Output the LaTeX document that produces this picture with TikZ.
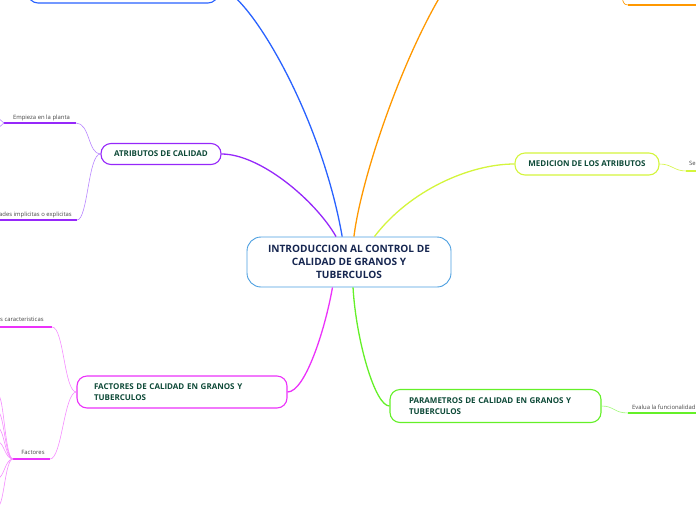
\documentclass[tikz,border=0pt]{standalone}
\usepackage{fontspec}
\setmainfont{Open Sans}
\usepackage{xcolor}
\usetikzlibrary{positioning, calc}

\definecolor{rootblue}{RGB}{74,158,224}
\definecolor{rootnavy}{RGB}{22,38,80}
\definecolor{topicgreen}{RGB}{14,74,56}
\definecolor{leafgray}{RGB}{70,70,70}
\definecolor{bluebranch}{RGB}{41,98,255}
\definecolor{orangebranch}{RGB}{255,152,0}
\definecolor{purplebranch}{RGB}{150,40,250}
\definecolor{purpletwig}{RGB}{185,135,255}
\definecolor{magentabranch}{RGB}{235,50,250}
\definecolor{magentatwig}{RGB}{245,140,255}
\definecolor{limebranch}{RGB}{212,245,60}
\definecolor{greenbranch}{RGB}{100,240,40}
\definecolor{greentwig}{RGB}{160,248,120}

\begin{document}
\begin{tikzpicture}[
    x=1pt, y=-1pt,
    rootbox/.style={draw=rootblue, line width=0.9pt, rounded corners=14pt, fill=white,
        minimum width=204pt, minimum height=50pt, align=center, inner sep=0pt,
        font=\bfseries\fontsize{10.1}{13}\selectfont, text=rootnavy},
    topic/.style={line width=1.1pt, rounded corners=10pt, fill=white, inner sep=0pt,
        font=\bfseries\fontsize{8}{11}\selectfont, text=topicgreen},
    leaf/.style={font=\fontsize{5.9}{6}\selectfont, text=leafgray, inner sep=0pt},
    branch/.style={line width=1.3pt},
    stem/.style={line width=1.5pt},
    twig/.style={line width=0.6pt},
]
\useasboundingbox (0,0) rectangle (696,520);
\clip (0,0) rectangle (696,520);

% central topic
\node[rootbox] (root) at (349,262) {INTRODUCCION AL CONTROL DE\\CALIDAD DE GRANOS Y\\TUBERCULOS};

% main topics
\node[topic, draw=bluebranch, minimum width=190pt, minimum height=30pt] (topleft) at (123,-12) {};
\node[topic, draw=purplebranch, minimum width=120pt, minimum height=21pt] (atrib) at (161,154) {ATRIBUTOS DE CALIDAD};
\node[topic, draw=limebranch, minimum width=144pt, minimum height=22pt] (medicion) at (587,164) {MEDICION DE LOS ATRIBUTOS};
\node[topic, draw=magentabranch, minimum height=32pt, text width=176pt, inner xsep=17pt, align=left] (factores) at (182,392) {FACTORES DE CALIDAD EN GRANOS Y\\TUBERCULOS};
\node[topic, draw=greenbranch, minimum height=33pt, text width=173pt, inner xsep=19pt, align=left] (param) at (495.5,406) {PARAMETROS DE CALIDAD EN GRANOS Y\\TUBERCULOS};

% branches to the centre
\coordinate (orangehub) at (465,-40);
\draw[branch, bluebranch] (topleft.east) .. controls (245,-12) and (320,110) .. (root.105);
\draw[branch, orangebranch] (root.79) .. controls (362,170) and (415,20) .. (orangehub);
\draw[branch, purplebranch] (atrib.east) .. controls (260,154) and (315,200) .. (root.117);
\draw[branch, limebranch] (medicion.west) .. controls (470,164) and (410,190) .. (root.45);
\draw[branch, magentabranch] (factores.east) .. controls (305,392) and (325,330) .. (root.-123);
\draw[branch, greenbranch] (param.west) .. controls (375,406) and (356,340) .. (root.-81);

% orange subtopic
\coordinate (orangeup) at (621,-20);
\coordinate (orangeL) at (628,5);
\coordinate (orangeR) at (700,5);
\draw[twig, orangebranch] (orangeup) .. controls (621,3) and (624,5) .. (orangeL);
\draw[stem, orangebranch] (orangeL) -- (orangeR);

% atributos subtopics
\coordinate (empiezaL) at (4,123);
\coordinate (empiezaR) at (76,123);
\coordinate (dadesL) at (-2,220);
\coordinate (dadesR) at (77,220);
\node[leaf, anchor=base] (empieza) at (41.5,119) {Empieza en la planta};
\node[leaf, anchor=base east] (dades) at (72,216) {dades implicitas o explicitas};
\draw[stem, purplebranch] (empiezaL) -- (empiezaR);
\draw[stem, purplebranch] (dadesL) -- (dadesR);
\draw[twig, purpletwig] (atrib.west) .. controls (88,154) and (90,123) .. (empiezaR);
\draw[twig, purpletwig] (atrib.west) .. controls (88,154) and (88,220) .. (dadesR);
\draw[twig, purpletwig] (empiezaL) -- (-3,117);
\draw[twig, purpletwig] (empiezaL) -- (-3,129);

% factores subtopics
\coordinate (caractL) at (-2,327);
\coordinate (caractR) at (52,327);
\coordinate (factL) at (13,459);
\coordinate (factR) at (50,459);
\node[leaf, anchor=base west] (caract) at (0,321) {s caracteristicas};
\node[leaf, anchor=base] (fact) at (33,454) {Factores};
\draw[stem, magentabranch] (caractL) -- (caractR);
\draw[stem, magentabranch] (factL) -- (factR);
\draw[twig, magentatwig] (factores.west) .. controls (64,392) and (64,327) .. (caractR);
\draw[twig, magentatwig] (factores.west) .. controls (64,392) and (62,459) .. (factR);
\foreach \yy in {395,412,428,442,478,506}
  \draw[twig, magentatwig] (factL) .. controls (5,459) and (4,\yy) .. (-2,\yy);

% medicion subtopic
\coordinate (seL) at (686,171);
\coordinate (seR) at (700,171);
\node[leaf, anchor=base west] (se) at (689,165) {Se};
\draw[twig, limebranch] (medicion.east) .. controls (672,164) and (674,171) .. (seL);
\draw[stem, limebranch] (seL) -- (seR);

% parametros subtopic
\coordinate (evalL) at (628,413);
\coordinate (evalR) at (700,413);
\node[leaf, anchor=base west] (eval) at (632,409) {Evalua la funcionalidad};
\draw[twig, greentwig] (param.east) .. controls (614,406) and (614,413) .. (evalL);
\draw[stem, greenbranch] (evalL) -- (evalR);

\end{tikzpicture}
\end{document}
